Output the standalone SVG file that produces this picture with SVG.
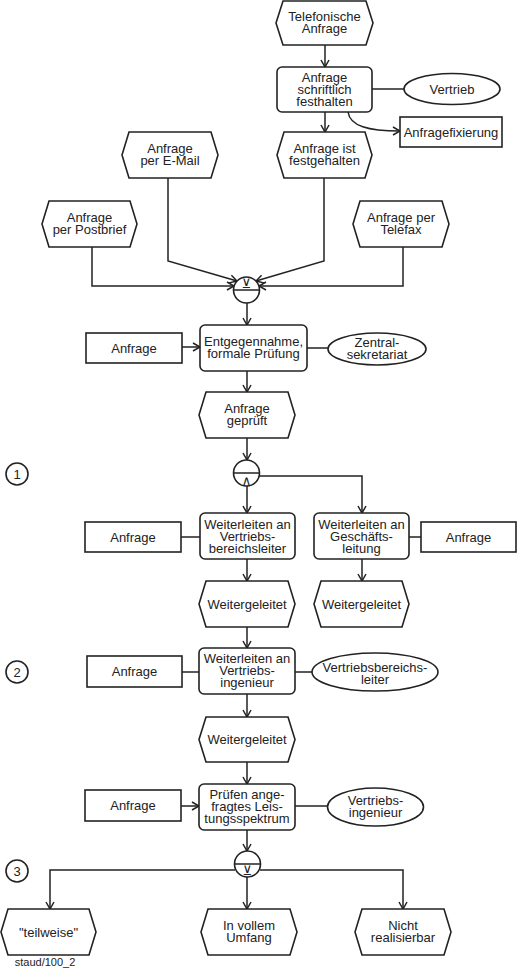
<svg xmlns="http://www.w3.org/2000/svg" width="517" height="968" viewBox="0 0 517 968">
<style>
.s{fill:#fff;stroke:#222;stroke-width:1.6}
.c{fill:none;stroke:#222;stroke-width:1.5}
.t{font-family:"Liberation Sans",Arial,sans-serif;font-size:13px;fill:#222;text-anchor:middle}
.op{font-family:"DejaVu Sans",sans-serif;font-size:13px;fill:#222;text-anchor:middle}
</style>
<defs>
<marker id="ar" viewBox="0 0 9 10" refX="8" refY="5" markerWidth="9" markerHeight="10" markerUnits="userSpaceOnUse" orient="auto">
<path d="M1,1 L8,5 L1,9" fill="none" stroke="#222" stroke-width="1.5"/>
</marker>
</defs>
<rect width="517" height="968" fill="#fff"/>

<g id="connectors">
<path class="c" d="M325,45 V67" marker-end="url(#ar)"/>
<path class="c" d="M372,89 H404"/>
<path class="c" d="M348,112 C350,126 368,131 400,131" marker-end="url(#ar)"/>
<path class="c" d="M325,112 V132" marker-end="url(#ar)"/>
<path class="c" d="M168,178 V261 L237,281" marker-end="url(#ar)"/>
<path class="c" d="M324,178 V261 L256,281" marker-end="url(#ar)"/>
<path class="c" d="M92,247 V286 H234" marker-end="url(#ar)"/>
<path class="c" d="M403,247 V286 H259" marker-end="url(#ar)"/>
<path class="c" d="M247,303 V325" marker-end="url(#ar)"/>
<path class="c" d="M182,347 H200" marker-end="url(#ar)"/>
<path class="c" d="M307,348 H328"/>
<path class="c" d="M247,371 V392" marker-end="url(#ar)"/>
<path class="c" d="M247,438 V460" marker-end="url(#ar)"/>
<path class="c" d="M247,486 V513" marker-end="url(#ar)"/>
<path class="c" d="M259,476 H362 V513" marker-end="url(#ar)"/>
<path class="c" d="M181,537 H200"/>
<path class="c" d="M409,537 H421"/>
<path class="c" d="M247,559 V581" marker-end="url(#ar)"/>
<path class="c" d="M362,559 V581" marker-end="url(#ar)"/>
<path class="c" d="M247,627 V648" marker-end="url(#ar)"/>
<path class="c" d="M182,672 H199"/>
<path class="c" d="M295,672 H312"/>
<path class="c" d="M247,694 V717" marker-end="url(#ar)"/>
<path class="c" d="M247,762 V784" marker-end="url(#ar)"/>
<path class="c" d="M181,806 H199" marker-end="url(#ar)"/>
<path class="c" d="M295,806 H328"/>
<path class="c" d="M247,830 V851" marker-end="url(#ar)"/>
<path class="c" d="M235,870 H50 V909" marker-end="url(#ar)"/>
<path class="c" d="M247,877 V909" marker-end="url(#ar)"/>
<path class="c" d="M260,870 H403 V909" marker-end="url(#ar)"/>
</g>

<g id="e_tel">
<polygon class="s" points="276,23 283,1 366,1 373,23 366,45 283,45"/>
<text class="t" x="324.5" y="21">Telefonische</text>
<text class="t" x="324.5" y="33">Anfrage</text>
</g>
<g id="f_schrift">
<rect class="s" x="277" y="67" width="95" height="45" rx="5"/>
<text class="t" x="324.5" y="82">Anfrage</text>
<text class="t" x="324.5" y="94">schriftlich</text>
<text class="t" x="324.5" y="106">festhalten</text>
</g>
<g id="o_vertrieb">
<ellipse class="s" cx="452" cy="89" rx="48" ry="15.5"/>
<text class="t" x="452" y="93.5">Vertrieb</text>
</g>
<g id="d_fix">
<rect class="s" x="400" y="117" width="102" height="30"/>
<text class="t" x="451" y="136.5">Anfragefixierung</text>
</g>
<g id="e_fest">
<polygon class="s" points="277,155 284,132 365,132 372,155 365,178 284,178"/>
<text class="t" x="324.5" y="153">Anfrage ist</text>
<text class="t" x="324.5" y="165">festgehalten</text>
</g>
<g id="e_mail">
<polygon class="s" points="122,155 129,132 211,132 218,155 211,178 129,178"/>
<text class="t" x="170" y="153">Anfrage</text>
<text class="t" x="170" y="165">per E-Mail</text>
</g>
<g id="e_post">
<polygon class="s" points="42,224 49,201 130,201 137,224 130,247 49,247"/>
<text class="t" x="89.5" y="222">Anfrage</text>
<text class="t" x="89.5" y="234">per Postbrief</text>
</g>
<g id="e_fax">
<polygon class="s" points="353,224 360,201 442,201 449,224 442,247 360,247"/>
<text class="t" x="401" y="222">Anfrage per</text>
<text class="t" x="401" y="234">Telefax</text>
</g>
<g id="xor1">
<circle class="s" cx="246.5" cy="290" r="13"/>
<path class="c" d="M233.5,290 H259.5"/>
<text class="op" x="246.5" y="288">⊻</text>
</g>
<g id="f_entg">
<rect class="s" x="200" y="325" width="107" height="46" rx="5"/>
<text class="t" x="253.5" y="345.5">Entgegennahme,</text>
<text class="t" x="253.5" y="357.5">formale Prüfung</text>
</g>
<g id="d_anfr1">
<rect class="s" x="86" y="333" width="96" height="30"/>
<text class="t" x="134" y="352.5">Anfrage</text>
</g>
<g id="o_zentral">
<ellipse class="s" cx="377" cy="349" rx="49" ry="16"/>
<text class="t" x="377" y="347">Zentral-</text>
<text class="t" x="377" y="359">sekretariat</text>
</g>
<g id="e_gepr">
<polygon class="s" points="199,415 206,392 288,392 295,415 288,438 206,438"/>
<text class="t" x="247" y="413">Anfrage</text>
<text class="t" x="247" y="425">geprüft</text>
</g>
<g id="and1">
<circle class="s" cx="246.5" cy="473" r="13"/>
<path class="c" d="M233.5,473 H259.5"/>
<text class="op" x="246.5" y="485">∧</text>
</g>
<g id="num1">
<circle class="s" cx="17" cy="474" r="11"/>
<text class="t" x="17" y="478.5">1</text>
</g>
<g id="f_wvbl">
<rect class="s" x="200" y="513" width="95" height="46" rx="5"/>
<text class="t" x="247.5" y="528.5">Weiterleiten an</text>
<text class="t" x="247.5" y="540.5">Vertriebs-</text>
<text class="t" x="247.5" y="552.5">bereichsleiter</text>
</g>
<g id="f_wgl">
<rect class="s" x="314" y="513" width="95" height="46" rx="5"/>
<text class="t" x="361.5" y="528.5">Weiterleiten an</text>
<text class="t" x="361.5" y="540.5">Geschäfts-</text>
<text class="t" x="361.5" y="552.5">leitung</text>
</g>
<g id="d_anfr2">
<rect class="s" x="85" y="522" width="96" height="30"/>
<text class="t" x="133" y="541.5">Anfrage</text>
</g>
<g id="d_anfr3">
<rect class="s" x="421" y="522" width="95" height="30"/>
<text class="t" x="468.5" y="541.5">Anfrage</text>
</g>
<g id="e_wg1">
<polygon class="s" points="199,604 206,581 288,581 295,604 288,627 206,627"/>
<text class="t" x="247" y="608.5">Weitergeleitet</text>
</g>
<g id="e_wg2">
<polygon class="s" points="314,604 321,581 402,581 409,604 402,627 321,627"/>
<text class="t" x="361.5" y="608.5">Weitergeleitet</text>
</g>
<g id="num2">
<circle class="s" cx="17" cy="672" r="11"/>
<text class="t" x="17" y="676.5">2</text>
</g>
<g id="f_wvi">
<rect class="s" x="199" y="648" width="96" height="46" rx="5"/>
<text class="t" x="247" y="662.5">Weiterleiten an</text>
<text class="t" x="247" y="674.5">Vertriebs-</text>
<text class="t" x="247" y="686.5">ingenieur</text>
</g>
<g id="d_anfr4">
<rect class="s" x="87" y="656" width="95" height="31"/>
<text class="t" x="134.5" y="676">Anfrage</text>
</g>
<g id="o_vbl">
<ellipse class="s" cx="375" cy="672" rx="63" ry="19"/>
<text class="t" x="375" y="671.5">Vertriebsbereichs-</text>
<text class="t" x="375" y="683.5">leiter</text>
</g>
<g id="e_wg3">
<polygon class="s" points="199,739.5 206,717 288,717 295,739.5 288,762 206,762"/>
<text class="t" x="247" y="744">Weitergeleitet</text>
</g>
<g id="f_pruef">
<rect class="s" x="199" y="784" width="96" height="46" rx="5"/>
<text class="t" x="247" y="799">Prüfen ange-</text>
<text class="t" x="247" y="811">fragtes Leis-</text>
<text class="t" x="247" y="823">tungsspektrum</text>
</g>
<g id="d_anfr5">
<rect class="s" x="85" y="790" width="96" height="31"/>
<text class="t" x="133" y="810">Anfrage</text>
</g>
<g id="o_vi">
<ellipse class="s" cx="375.5" cy="807" rx="48" ry="19"/>
<text class="t" x="375.5" y="805">Vertriebs-</text>
<text class="t" x="375.5" y="817">ingenieur</text>
</g>
<g id="xor2">
<circle class="s" cx="247.5" cy="864" r="13"/>
<path class="c" d="M234.5,864 H260.5"/>
<text class="op" x="247.5" y="875">⊻</text>
</g>
<g id="num3">
<circle class="s" cx="17" cy="871" r="11"/>
<text class="t" x="17" y="875.5">3</text>
</g>
<g id="e_teil">
<polygon class="s" points="1,932 8,909 89,909 96,932 89,955 8,955"/>
<text class="t" x="48.5" y="936.5">"teilweise"</text>
</g>
<g id="e_voll">
<polygon class="s" points="201,932 208,909 290,909 297,932 290,955 208,955"/>
<text class="t" x="249" y="930">In vollem</text>
<text class="t" x="249" y="942">Umfang</text>
</g>
<g id="e_nicht">
<polygon class="s" points="355,932 362,909 444,909 451,932 444,955 362,955"/>
<text class="t" x="403" y="930">Nicht</text>
<text class="t" x="403" y="942">realisierbar</text>
</g>
<text id="label" class="t" x="45" y="966" style="font-size:11px">staud/100_2</text>
</svg>
